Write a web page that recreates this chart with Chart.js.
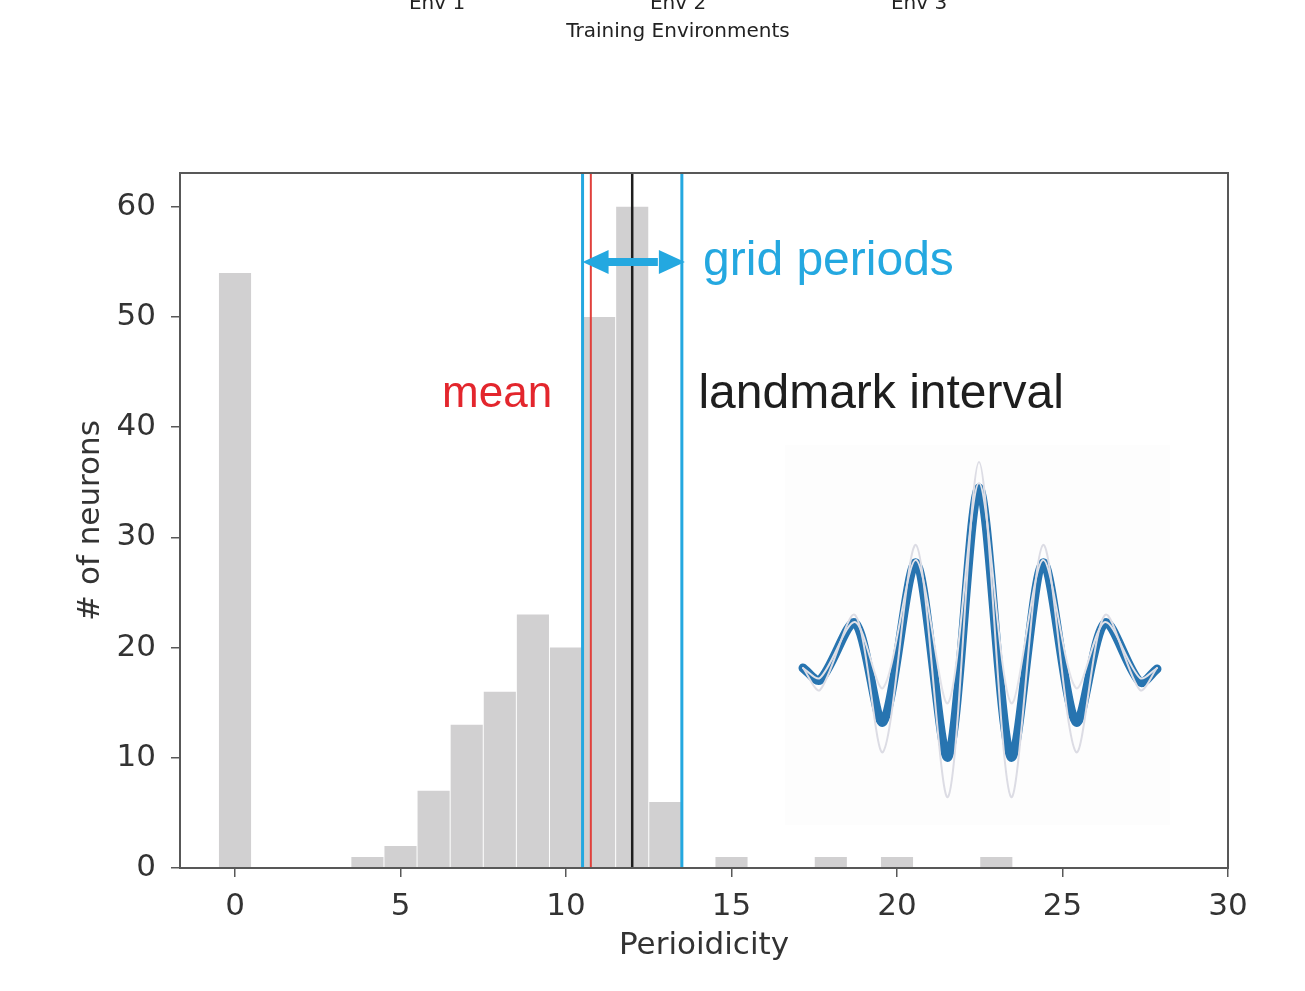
<!DOCTYPE html>
<html>
<head>
<meta charset="utf-8">
<script src="https://cdn.jsdelivr.net/npm/chart.js@4.4.1/dist/chart.umd.min.js"></script>
<style>
  html, body { margin: 0; padding: 0; background: #fff; }
  #wrap { position: relative; width: 1305px; height: 991px; }
  #histChart { position: absolute; left: 0; top: 0; }
  #tuningChart { position: absolute; left: 785px; top: 445px; pointer-events: none; }
</style>
</head>
<body>
<div id="wrap">
  <canvas id="histChart" width="1305" height="991"></canvas>
  <canvas id="tuningChart" width="385" height="380"></canvas>
</div>
<script>
// histogram: bin centres and neuron counts
const binCenters = [0, 4, 5, 6, 7, 8, 9, 10, 11, 12, 13, 15, 18, 20, 23]
const neuronCounts = [54, 1, 2, 7, 13, 16, 23, 20, 50, 60, 6, 1, 1, 1, 1]
const xTicks = [0, 5, 10, 15, 20, 25, 30]
const yTicks = [0, 10, 20, 30, 40, 50, 60]

// reference periods
const gridPeriodLow = 10.5
const gridPeriodHigh = 13.5
const meanPeriod = 10.75
const landmarkInterval = 12
const arrowLevel = 55

const envLabels = ["Env 1", "Env 2", "Env 3"]

// example tuning curve for the inset
const lagSteps = [0, 1.7, 5.2, 8.0, 11.3, 14.5, 17.6, 20.8, 24.0, 27.3, 30.2, 33.7, 35.4]
const tuningMean = [0, -1.2, 4.5, -5.4, 10.5, -8.9, 18.0, -8.9, 10.5, -5.4, 4.5, -1.4, -0.1]
const tuningWide = [0, -2.2, 5.3, -8.4, 12.3, -12.9, 20.6, -12.9, 12.3, -8.4, 5.3, -2.2, 0]
const tuningNarrow = [0, -1.0, 4.6, -2.0, 10.8, -3.5, 18.5, -3.5, 10.8, -2.0, 4.6, -1.0, 0]

const BLUE = "#24a8e0"
const TEXT = "#333333"
const AXIS = "#585858"

const periodMarkers = {
  id: "periodMarkers",
  afterDatasetsDraw(chart) {
    const { ctx, chartArea, scales: { x, y } } = chart

    const vline = (value, color, width) => {
      const px = x.getPixelForValue(value)
      ctx.save()
      ctx.strokeStyle = color
      ctx.lineWidth = width
      ctx.beginPath()
      ctx.moveTo(px, chartArea.top)
      ctx.lineTo(px, chartArea.bottom)
      ctx.stroke()
      ctx.restore()
    }
    vline(gridPeriodLow, BLUE, 3)
    vline(gridPeriodHigh, BLUE, 3)
    vline(meanPeriod, "#e0403c", 2)
    vline(landmarkInterval, "#1e1e1e", 2.5)

    // double headed arrow between the grid periods
    const x1 = x.getPixelForValue(gridPeriodLow)
    const x2 = x.getPixelForValue(gridPeriodHigh)
    const ay = y.getPixelForValue(arrowLevel)
    const head = 26
    const half = 12
    ctx.save()
    ctx.strokeStyle = BLUE
    ctx.fillStyle = BLUE
    ctx.lineWidth = 8
    ctx.beginPath()
    ctx.moveTo(x1 + head - 2, ay)
    ctx.lineTo(x2 - head + 2, ay)
    ctx.stroke()
    ctx.beginPath()
    ctx.moveTo(x1, ay)
    ctx.lineTo(x1 + head, ay - half)
    ctx.lineTo(x1 + head, ay + half)
    ctx.closePath()
    ctx.fill()
    ctx.beginPath()
    ctx.moveTo(x2 + 3, ay)
    ctx.lineTo(x2 + 3 - head, ay - half)
    ctx.lineTo(x2 + 3 - head, ay + half)
    ctx.closePath()
    ctx.fill()
    ctx.restore()

    // labels
    ctx.save()
    ctx.textBaseline = "alphabetic"
    ctx.font = "48px 'Liberation Sans', Arial, sans-serif"
    ctx.fillStyle = BLUE
    ctx.textAlign = "left"
    ctx.fillText("grid periods", x.getPixelForValue(14.14), y.getPixelForValue(53.8))
    ctx.fillStyle = "#1e1e1e"
    ctx.fillText("landmark interval", x.getPixelForValue(14.0), y.getPixelForValue(41.7))
    ctx.font = "44px 'Liberation Sans', Arial, sans-serif"
    ctx.fillStyle = "#e3262d"
    ctx.textAlign = "right"
    ctx.fillText("mean", x.getPixelForValue(9.58), y.getPixelForValue(41.8))
    ctx.restore()

    // axes frame
    ctx.save()
    ctx.strokeStyle = AXIS
    ctx.lineWidth = 2
    ctx.strokeRect(chartArea.left, chartArea.top, chartArea.right - chartArea.left, chartArea.bottom - chartArea.top)
    ctx.restore()
  },
  afterDraw(chart) {
    // labels of the panel above, cut off at the top edge
    const { ctx } = chart
    ctx.save()
    ctx.font = "20px 'DejaVu Sans'"
    ctx.fillStyle = "#222"
    ctx.textAlign = "center"
    ctx.textBaseline = "alphabetic"
    const centres = [437, 678, 919]
    envLabels.forEach((label, i) => ctx.fillText(label, centres[i], 9))
    ctx.fillText("Training Environments", 678, 37)
    ctx.restore()
  }
}

const tickFont = { family: "DejaVu Sans", size: 31 }

new Chart(document.getElementById("histChart"), {
  type: "bar",
  data: {
    datasets: [
      {
        data: binCenters.map((c, i) => ({ x: c, y: neuronCounts[i] })),
        backgroundColor: "#d1d0d1",
        borderWidth: 0,
        barPercentage: 1,
        categoryPercentage: 0.97
      }
    ]
  },
  options: {
    responsive: false,
    animation: false,
    devicePixelRatio: 1,
    layout: { padding: { left: 0, top: 173, right: 77, bottom: 0 } },
    plugins: {
      legend: { display: false },
      tooltip: { enabled: false }
    },
    scales: {
      x: {
        type: "linear",
        min: -1.662,
        max: 30,
        offset: false,
        grid: { drawOnChartArea: false, drawTicks: true, tickLength: 9, color: AXIS, lineWidth: 1.5, offset: false },
        border: { display: true, color: AXIS, width: 2 },
        ticks: { font: tickFont, color: TEXT, padding: 11, maxRotation: 0 },
        afterBuildTicks(scale) {
          scale.ticks = xTicks.map((v) => ({ value: v }))
        },
        afterFit(scale) {
          scale.height = 123
        },
        title: {
          display: true,
          text: "Perioidicity",
          font: tickFont,
          color: TEXT,
          padding: { top: 0, bottom: 26 }
        }
      },
      y: {
        min: 0,
        max: 63.07,
        grid: { drawOnChartArea: false, drawTicks: true, tickLength: 9, color: AXIS, lineWidth: 1.5 },
        border: { display: true, color: AXIS, width: 2 },
        ticks: { font: tickFont, color: TEXT, padding: 15 },
        afterBuildTicks(scale) {
          scale.ticks = yTicks.map((v) => ({ value: v }))
        },
        afterFit(scale) {
          scale.width = 180
        },
        title: {
          display: true,
          text: "# of neurons",
          font: tickFont,
          color: TEXT,
          padding: { top: 72, bottom: 0 }
        }
      }
    }
  },
  plugins: [periodMarkers]
})

const insetBackground = {
  id: "insetBackground",
  beforeDraw(chart) {
    const { ctx, width, height } = chart
    ctx.save()
    ctx.fillStyle = "#fdfdfd"
    ctx.fillRect(0, 0, width, height)
    ctx.restore()
  }
}

const curve = (values) => lagSteps.map((lag, i) => ({ x: lag, y: values[i] }))

new Chart(document.getElementById("tuningChart"), {
  type: "line",
  data: {
    datasets: [
      { data: curve(tuningWide), borderColor: "#dcdce4", borderWidth: 2 },
      { data: curve(tuningNarrow), borderColor: "#e2e2e8", borderWidth: 2 },
      { data: curve(tuningMean), borderColor: "#2774b0", borderWidth: 9 }
    ]
  },
  options: {
    responsive: false,
    animation: false,
    devicePixelRatio: 1,
    layout: { padding: 0 },
    plugins: {
      legend: { display: false },
      tooltip: { enabled: false }
    },
    elements: {
      point: { radius: 0 },
      line: { tension: 0.3, borderCapStyle: "round", borderJoinStyle: "round" }
    },
    scales: {
      x: { type: "linear", display: false, min: -1.8, max: 36.7 },
      y: { display: false, min: -15.7, max: 22.3 }
    }
  },
  plugins: [insetBackground]
})
</script>
</body>
</html>
